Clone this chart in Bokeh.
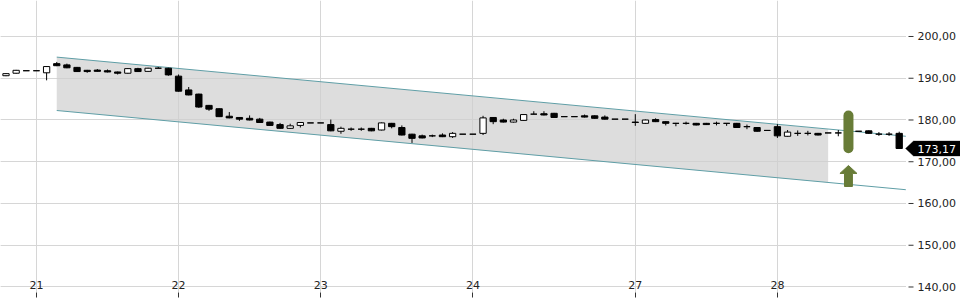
import numpy as np
from bokeh.plotting import figure
from bokeh.models import Range1d, FixedTicker, PolyAnnotation, Label, BoxAnnotation, Grid
from bokeh.core.properties import value
from bokeh.embed import file_html
from bokeh.resources import INLINE

# ---- data -------------------------------------------------------------
opens = [190.6, 191.2, 191.8, 191.8, 191.3, 193.5, 193.2, 192.6, 191.9, 191.95,
         191.8, 191.5, 191.2, 192.3, 191.65, 192.4, 192.4, 190.5, 187.2, 186.2,
         183.5, 182.7, 180.9, 180.6, 180.4, 180.2, 179.5, 178.9, 178.0, 178.7,
         179.3, 179.3, 178.9, 177.3, 177.8, 177.8, 178.0, 177.6, 179.2, 178.2,
         176.6, 176.2, 176.2, 176.4, 176.0, 176.6, 176.6, 176.8, 180.6, 180.0,
         179.5, 179.9, 181.4, 181.5, 181.6, 180.8, 180.8, 181.0, 181.0, 180.7,
         180.2, 180.2, 179.5, 179.2, 180.1, 179.6, 179.2, 179.2, 179.2, 179.2,
         179.2, 179.2, 179.2, 178.4, 178.2, 177.5, 178.4, 176.1, 176.8, 176.8,
         176.8, 176.9, 176.9, 177.2, 177.3, 177.4, 176.6, 176.6, 176.8]
highs = [191.2, 192.0, 191.8, 191.8, 192.9, 193.9, 193.5, 192.7, 192.0, 192.2,
         192.1, 191.6, 192.4, 192.5, 192.5, 192.7, 192.5, 190.9, 187.9, 186.3,
         183.6, 182.8, 181.9, 180.7, 181.1, 180.5, 179.6, 179.3, 179.1, 179.5,
         179.3, 179.3, 180.1, 178.4, 178.2, 178.2, 178.1, 179.4, 179.3, 178.7,
         176.7, 176.5, 176.5, 176.8, 177.1, 176.6, 176.6, 181.0, 180.7, 180.3,
         180.3, 181.4, 182.1, 182.1, 181.7, 180.8, 180.8, 181.3, 181.1, 181.1,
         180.2, 180.2, 181.4, 180.1, 180.4, 179.7, 179.3, 179.6, 179.3, 179.3,
         179.6, 179.2, 179.3, 178.9, 178.3, 177.5, 179.0, 177.6, 177.5, 177.4,
         176.9, 176.9, 177.6, 177.2, 177.3, 177.5, 177.1, 177.1, 177.2]
lows = [190.5, 191.1, 191.8, 191.8, 189.5, 192.9, 192.4, 191.5, 191.3, 191.6,
        191.4, 190.9, 191.1, 191.5, 191.6, 192.4, 190.6, 186.8, 185.9, 182.9,
        182.2, 180.7, 180.4, 179.8, 179.9, 179.3, 178.6, 177.9, 177.9, 178.2,
        179.3, 179.3, 177.3, 176.7, 177.4, 177.4, 177.3, 177.5, 178.0, 176.3,
        174.5, 175.6, 175.9, 175.9, 175.7, 176.6, 176.6, 176.4, 179.0, 179.4,
        179.4, 179.8, 181.4, 181.1, 180.5, 180.8, 180.8, 180.6, 180.3, 180.1,
        180.2, 180.2, 178.6, 179.1, 179.5, 178.7, 178.5, 178.9, 178.7, 178.8,
        178.7, 178.6, 178.1, 177.8, 177.2, 177.5, 175.7, 176.0, 176.2, 176.3,
        176.3, 176.9, 176.1, 177.2, 177.3, 176.7, 176.2, 176.2, 173.17]
closes = [191.1, 191.9, 191.8, 191.8, 192.8, 193.0, 192.5, 191.6, 191.6, 191.65,
          191.5, 191.2, 192.3, 191.6, 192.4, 192.4, 190.8, 186.9, 186.0, 183.1,
          182.6, 180.8, 180.5, 180.2, 180.0, 179.4, 178.7, 178.0, 178.6, 179.4,
          179.3, 179.3, 177.4, 178.0, 177.8, 177.8, 177.4, 179.3, 178.4, 176.4,
          175.6, 175.7, 176.2, 176.0, 176.8, 176.6, 176.6, 180.5, 179.6, 179.5,
          180.0, 181.3, 181.4, 181.2, 180.6, 180.8, 180.8, 180.7, 180.4, 180.2,
          180.2, 180.2, 179.4, 180.0, 179.6, 179.2, 179.2, 179.2, 178.8, 178.9,
          179.2, 179.2, 178.2, 178.4, 177.3, 177.5, 176.2, 177.1, 176.8, 176.8,
          176.4, 176.9, 176.9, 177.2, 177.3, 176.8, 176.6, 176.6, 173.17]

x_tick_pos = [3, 17, 31, 46, 62, 76]
x_tick_labels = ["21", "22", "23", "24", "27", "28"]
y_ticks = [140, 150, 160, 170, 180, 190, 200]
y_tick_labels = ["140,00", "150,00", "160,00", "170,00", "180,00", "190,00", "200,00"]

# trend channel (start/end points)
chan_x = [5, 88.65]
chan_upper = [195.06, 176.1]
chan_lower = [182.27, 163.3]
# shaded part of channel
fill_x = [5, 81]
fill_upper = [195.06, 177.8]
fill_lower = [182.27, 165.0]

# signal marker
signal_x = 83
signal_bar = [173.25, 181.08]
signal_arrow = [164.07, 167.2, 169.1]  # shaft bottom, head base, tip

last_label = "173,17"

# ---- figure -----------------------------------------------------------
W, H = 960, 300
PX = 10.15          # pixels per candle slot
X0 = -5.5 / PX
X1 = (W - 5.5) / PX
EDGE = (905.5 - 5.5) / PX   # right end of the price area (data units)
Y0, Y1 = 138.68, 208.62

p = figure(width=W, height=H, output_backend="svg", toolbar_location=None,
           x_range=Range1d(X0, X1), y_range=Range1d(Y0, Y1),
           y_axis_location=None)
p.min_border_left = 0
p.min_border_top = 0
p.min_border_right = 0
p.min_border_bottom = 8
p.outline_line_color = None
p.background_fill_color = "white"
p.border_fill_color = "white"

font = "DejaVu Sans"
xa = p.xaxis[0]
xa.ticker = FixedTicker(ticks=x_tick_pos)
xa.major_label_overrides = {t: l for t, l in zip(x_tick_pos, x_tick_labels)}
xa.axis_line_color = None
xa.major_tick_in = 0
xa.major_tick_out = 5
xa.minor_tick_line_color = None
xa.major_tick_line_color = "#333333"
xa.major_label_standoff = -17
xa.major_label_text_font = font
xa.major_label_text_font_size = "11px"
xa.major_label_text_color = "#222222"

p.xgrid.grid_line_color = "#d6d6d6"
p.add_layout(Grid(dimension=1, ticker=FixedTicker(ticks=y_ticks), grid_line_color="#d6d6d6"))

# white mask for the price-scale strip
p.add_layout(BoxAnnotation(left=EDGE, fill_color="white", fill_alpha=1.0,
                           line_color=None, level="underlay"))

# price scale (right side)
lab_x = (917 - 5.5) / PX
tick_x0 = (908 - 5.5) / PX
tick_x1 = (913 - 5.5) / PX
p.segment(x0=[tick_x0] * len(y_ticks), y0=y_ticks, x1=[tick_x1] * len(y_ticks), y1=y_ticks,
          line_color="#333333", line_width=1)
p.text(x=[lab_x] * len(y_ticks), y=y_ticks, text=y_tick_labels,
       text_font=value(font), text_font_size="11px", text_color="#222222",
       text_baseline="middle", text_align="left")

# channel
p.varea(x=fill_x, y1=fill_lower, y2=fill_upper, fill_color="#cfcfcf", fill_alpha=0.7)
p.line(chan_x, chan_upper, line_color="#5f9ea6", line_width=1)
p.line(chan_x, chan_lower, line_color="#5f9ea6", line_width=1)

# candles
o = np.array(opens); h = np.array(highs); l = np.array(lows); c = np.array(closes)
idx = np.arange(len(o))
up = c >= o
dn = ~up
p.segment(idx, h, idx, l, line_color="black", line_width=1)
p.vbar(x=idx[up], top=c[up], bottom=o[up], width=0.62,
       fill_color="white", line_color="black", line_width=1)
p.vbar(x=idx[dn], top=o[dn], bottom=c[dn], width=0.62,
       fill_color="black", line_color="black", line_width=1)

# signal bar + arrow
green = "#687c37"
p.segment(x0=[signal_x], y0=[signal_bar[0]], x1=[signal_x], y1=[signal_bar[1]],
          line_color=green, line_width=10, line_cap="round")
hw, sw = 0.84, 0.39
sb, hb, tip = signal_arrow
p.patch([signal_x - sw, signal_x - sw, signal_x - hw, signal_x, signal_x + hw,
         signal_x + sw, signal_x + sw],
        [sb, hb, hb, tip, hb, hb, sb], fill_color=green, line_color=green)

# last value tag
last = closes[-1]
dy = 1.8
tx0 = (905 - 5.5) / PX
tx1 = (913 - 5.5) / PX
p.add_layout(PolyAnnotation(xs=[tx0, tx1, X1 + 1, X1 + 1, tx1],
                            ys=[last, last + dy, last + dy, last - dy, last - dy],
                            fill_color="black", fill_alpha=1.0, line_color="black"))
p.add_layout(Label(x=lab_x, y=last, text=last_label, text_color="white",
                   text_font=font, text_font_size="11px", text_baseline="middle",
                   text_align="left"))

open("out.html", "w").write(file_html(p, INLINE))
